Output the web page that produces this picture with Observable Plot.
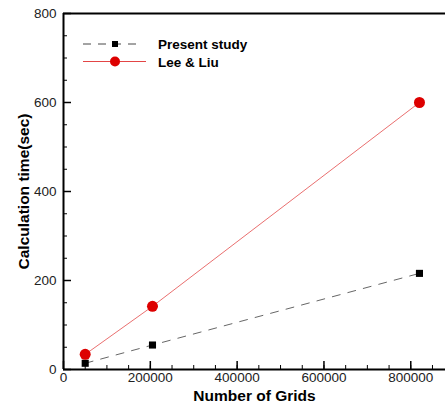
<!DOCTYPE html>
<html><head><meta charset="utf-8">
<script src="https://cdn.jsdelivr.net/npm/d3@7"></script>
<script src="https://cdn.jsdelivr.net/npm/@observablehq/plot@0.6"></script>
<style>
body{margin:0;background:#fff;font-family:"Liberation Sans",Arial,sans-serif;}
#wrap{position:relative;width:445px;height:405px;overflow:hidden;}
svg{font-family:"Liberation Sans",Arial,sans-serif;}
g[aria-label="y-axis label"] text, g[aria-label="x-axis label"] text{font-weight:bold;font-size:15.5px;fill:#000;}
g[aria-label="x-axis tick label"] text{font-size:13.5px;fill:#222;}
g[aria-label="y-axis tick label"] text{font-size:13.5px;fill:#222;}
#legend{position:absolute;left:0;top:0;}
</style></head>
<body><div id="wrap"></div>
<script>
const grids = [50000, 205000, 820000];
const presentStudy = [14, 55, 216];
const leeLiu = [34, 142, 600];
const seriesNames = ["Present study", "Lee & Liu"];
const xTicks = [0, 200000, 400000, 600000, 800000];
const yTicks = [0, 200, 400, 600, 800];

const present = grids.map((g, i) => ({x: g, y: presentStudy[i]}));
const lee = grids.map((g, i) => ({x: g, y: leeLiu[i]}));
const red = "#dd0000";

const xMinor = d3.range(0, 900001, 50000);
const yMinor = d3.range(0, 801, 50);

const chart = Plot.plot({
  width: 445, height: 405,
  marginLeft: 63, marginTop: 13, marginBottom: 36, marginRight: 0,
  x: {domain: [0, 880000], label: "Number of Grids", labelArrow: "none"},
  y: {domain: [0, 800], label: "Calculation time(sec)", labelArrow: "none"},
  marks: [
    Plot.axisX(xMinor, {tickSize: -4, text: null, label: null, strokeWidth: 1}),
    Plot.axisX(xTicks, {tickSize: -8, text: null, label: null, strokeWidth: 1.5}),
    Plot.axisX(xTicks, {tickSize: 0, tickPadding: 3, tickFormat: d => String(d), label: "Number of Grids", labelArrow: "none", labelAnchor: "center", labelOffset: 31}),
    Plot.axisY(yMinor, {tickSize: -4, text: null, label: null, strokeWidth: 1}),
    Plot.axisY(yTicks, {tickSize: -8, text: null, label: null, strokeWidth: 1.5}),
    Plot.axisY(yTicks, {tickSize: 0, tickPadding: 7, label: "Calculation time(sec)", labelArrow: "none", labelAnchor: "center", labelOffset: 46}),
    Plot.ruleX([0], {strokeWidth: 2}),
    Plot.ruleY([0], {strokeWidth: 2}),
    Plot.ruleY([800], {strokeWidth: 2}),
    Plot.line(present, {x: "x", y: "y", stroke: "#555", strokeWidth: 0.9, strokeDasharray: "8,8"}),
    Plot.line(lee, {x: "x", y: "y", stroke: "#e03030", strokeWidth: 0.7}),
    Plot.dot(present, {x: "x", y: "y", symbol: "square", r: 4, fill: "#000"}),
    Plot.dot(lee, {x: "x", y: "y", r: 5.5, fill: red})
  ]
});
document.getElementById("wrap").appendChild(chart);

// legend overlay
const leg = d3.select("#wrap").append("svg").attr("id", "legend").attr("width", 445).attr("height", 405);
const rows = [
  {name: seriesNames[0], color: "#333", dash: "8,7", sym: "square"},
  {name: seriesNames[1], color: "#e03030", dash: null, sym: "circle"}
];
rows.forEach((r, i) => {
  const y = 44 + i * 17.5;
  leg.append("line").attr("x1", 83).attr("x2", r.sym === "square" ? 140 : 146).attr("y1", y).attr("y2", y)
    .attr("stroke", r.color).attr("stroke-width", 0.9).attr("stroke-dasharray", r.dash);
  if (r.sym === "square") leg.append("rect").attr("x", 112).attr("y", y - 3).attr("width", 6).attr("height", 6).attr("fill", "#000");
  else leg.append("circle").attr("cx", 115).attr("cy", y).attr("r", 5).attr("fill", red);
  leg.append("text").attr("x", 158).attr("y", y + 5).text(r.name)
    .attr("font-weight", "bold").attr("font-size", 13.5).attr("font-family", "Liberation Sans, Arial, sans-serif");
});
</script></body></html>
